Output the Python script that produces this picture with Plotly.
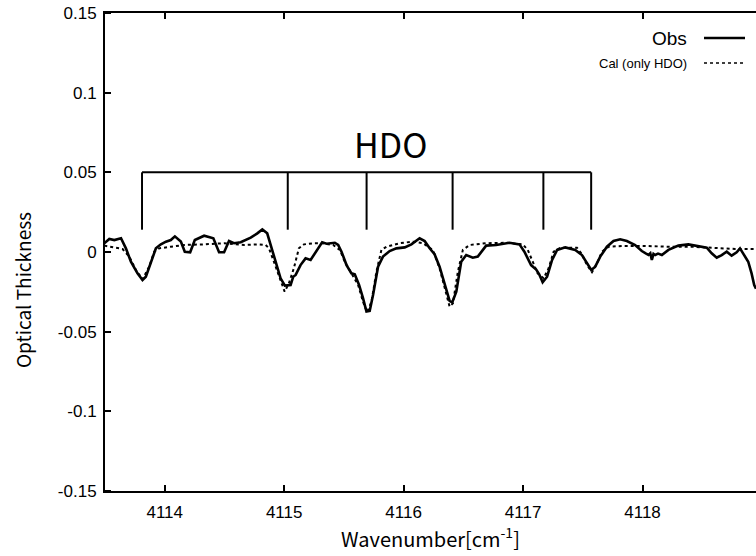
import plotly.graph_objects as go

# Observed optical thickness spectrum
obs_wn = [4113.494, 4113.536, 4113.578, 4113.634, 4113.675, 4113.717, 4113.772, 4113.814,
          4113.842, 4113.884, 4113.926, 4113.968, 4114.010, 4114.051, 4114.085, 4114.135,
          4114.168, 4114.213, 4114.252, 4114.330, 4114.407, 4114.455, 4114.497, 4114.538,
          4114.580, 4114.636, 4114.720, 4114.775, 4114.817, 4114.858, 4114.887, 4114.929,
          4114.970, 4115.006, 4115.054, 4115.076, 4115.096, 4115.137, 4115.179, 4115.221,
          4115.276, 4115.318, 4115.355, 4115.424, 4115.452, 4115.480, 4115.522, 4115.563,
          4115.591, 4115.627, 4115.660, 4115.689, 4115.716, 4115.744, 4115.786, 4115.827,
          4115.883, 4115.939, 4116.009, 4116.065, 4116.134, 4116.176, 4116.218, 4116.259,
          4116.301, 4116.343, 4116.385, 4116.407, 4116.441, 4116.482, 4116.524, 4116.579,
          4116.621, 4116.691, 4116.775, 4116.886, 4116.970, 4117.011, 4117.067, 4117.110,
          4117.135, 4117.164, 4117.201, 4117.243, 4117.285, 4117.354, 4117.437, 4117.493,
          4117.535, 4117.571, 4117.604, 4117.646, 4117.702, 4117.757, 4117.813, 4117.869,
          4117.938, 4117.994, 4118.030, 4118.050, 4118.065, 4118.078, 4118.092, 4118.106,
          4118.130, 4118.162, 4118.217, 4118.300, 4118.384, 4118.482, 4118.538, 4118.579,
          4118.621, 4118.663, 4118.705, 4118.746, 4118.788, 4118.816, 4118.852, 4118.885,
          4118.913, 4118.935, 4118.950]
obs_tau = [0.0055, 0.0082, 0.0075, 0.0086, 0.0023, -0.0061, -0.0134, -0.0176,
           -0.0155, -0.0061, 0.0023, 0.0048, 0.0065, 0.0075, 0.0098, 0.0065,
           0.0002, -0.0002, 0.0075, 0.0102, 0.0086, -0.0002, -0.0002, 0.0069,
           0.0055, 0.0061, 0.0090, 0.0117, 0.0142, 0.0117, 0.0044, -0.0061,
           -0.0165, -0.0211, -0.0207, -0.0155, -0.0144, -0.0082, -0.0040, -0.0050,
           0.0013, 0.0061, 0.0052, 0.0058, 0.0044, 0.0002, -0.0082, -0.0134,
           -0.0140, -0.0207, -0.0290, -0.0374, -0.0370, -0.0270, -0.0092, -0.0029,
           0.0006, 0.0023, 0.0029, 0.0048, 0.0086, 0.0069, 0.0023, -0.0014,
           -0.0092, -0.0207, -0.0307, -0.0316, -0.0249, -0.0061, -0.0019, -0.0036,
           -0.0029, 0.0040, 0.0044, 0.0058, 0.0048, 0.0002, -0.0082, -0.0110,
           -0.0140, -0.0190, -0.0155, -0.0050, 0.0013, 0.0029, 0.0013, -0.0019,
           -0.0071, -0.0113, -0.0092, -0.0029, 0.0033, 0.0069, 0.0080, 0.0069,
           0.0044, 0.0006, -0.0010, -0.0018, -0.0008, -0.0050, -0.0012, -0.0019,
           -0.0010, -0.0019, 0.0013, 0.0040, 0.0048, 0.0033, 0.0027, -0.0008,
           -0.0036, -0.0019, 0.0002, -0.0023, -0.0002, 0.0023, -0.0019, -0.0061,
           -0.0134, -0.0207, -0.0230]

# Calculated optical thickness (HDO lines only)
cal_wn = [4113.494, 4113.578, 4113.647, 4113.703, 4113.759, 4113.814, 4113.870, 4113.912,
          4113.954, 4114.051, 4114.162, 4114.330, 4114.497, 4114.664, 4114.775, 4114.845,
          4114.873, 4114.914, 4114.956, 4115.004, 4115.040, 4115.081, 4115.123, 4115.165,
          4115.249, 4115.318, 4115.410, 4115.466, 4115.508, 4115.563, 4115.619, 4115.660,
          4115.694, 4115.731, 4115.772, 4115.814, 4115.856, 4115.967, 4116.078, 4116.162,
          4116.245, 4116.301, 4116.343, 4116.385, 4116.413, 4116.454, 4116.496, 4116.552,
          4116.691, 4116.858, 4116.997, 4117.039, 4117.081, 4117.122, 4117.172, 4117.214,
          4117.256, 4117.312, 4117.451, 4117.493, 4117.535, 4117.577, 4117.619, 4117.660,
          4117.716, 4117.827, 4118.022, 4118.217, 4118.412, 4118.607, 4118.774, 4118.950]
cal_tau = [0.0040, 0.0027, 0.0019, -0.0029, -0.0113, -0.0171, -0.0092, 0.0002,
           0.0023, 0.0033, 0.0044, 0.0048, 0.0055, 0.0044, 0.0048, 0.0044,
           0.0023, -0.0061, -0.0155, -0.0249, -0.0196, -0.0102, 0.0023, 0.0048,
           0.0055, 0.0055, 0.0044, 0.0013, -0.0061, -0.0134, -0.0207, -0.0312,
           -0.0378, -0.0312, -0.0124, 0.0013, 0.0033, 0.0055, 0.0065, 0.0055,
           0.0013, -0.0102, -0.0228, -0.0343, -0.0322, -0.0124, 0.0013, 0.0044,
           0.0055, 0.0058, 0.0048, 0.0013, -0.0061, -0.0134, -0.0165, -0.0102,
           0.0002, 0.0027, 0.0027, -0.0014, -0.0082, -0.0127, -0.0071, 0.0002,
           0.0033, 0.0038, 0.0038, 0.0033, 0.0033, 0.0027, 0.0019, 0.0019]

# HDO line positions marked by the bracket
hdo_lines = [4113.81, 4115.03, 4115.69, 4116.41, 4117.17, 4117.57]
bracket_top = 0.05
bracket_bottom = 0.014
hdo_label_wn = 4115.89

x_range = [4113.5, 4118.95]
y_range = [-0.15, 0.15]
y_ticks = [-0.15, -0.1, -0.05, 0, 0.05, 0.1, 0.15]
y_ticktext = ["-0.15", "-0.1", "-0.05", "0", "0.05", "0.1", "0.15"]
x_ticks = [4114, 4115, 4116, 4117, 4118]

tick_font = dict(family="Liberation Sans, Arial, sans-serif", size=17, color="black")
title_family = "Noto Sans CJK JP, Noto Sans, sans-serif"

fig = go.Figure()
fig.add_trace(go.Scatter(x=cal_wn, y=cal_tau, mode="lines",
                         line=dict(color="black", width=2, dash="dot"),
                         name="Cal (only HDO)", showlegend=False))
fig.add_trace(go.Scatter(x=obs_wn, y=obs_tau, mode="lines",
                         line=dict(color="black", width=2.6),
                         name="Obs", showlegend=False))

# Bracket over the HDO lines
fig.add_shape(type="line", xref="x", yref="y",
              x0=hdo_lines[0], x1=hdo_lines[-1], y0=bracket_top, y1=bracket_top,
              line=dict(color="black", width=2))
for wn in hdo_lines:
    fig.add_shape(type="line", xref="x", yref="y",
                  x0=wn, x1=wn, y0=bracket_bottom, y1=bracket_top,
                  line=dict(color="black", width=2))
fig.add_annotation(x=hdo_label_wn, y=bracket_top,
                   xref="x", yref="y", text="HDO", showarrow=False,
                   yanchor="bottom", yshift=2,
                   font=dict(family=title_family, size=34, color="black"))

# Pixel helpers for the key and the y title
plot_l, plot_t, plot_b = 105, 13, 65
plot_w = 756 - plot_l
plot_h = 556 - plot_t - plot_b


def px_to_paper(px, py):
    return (px - plot_l) / plot_w, 1 - (py - plot_t) / plot_h


key_rows = [
    ("Obs", 38, 19, "solid", 2.6),
    ("Cal (only HDO)", 63, 13, "dot", 1.6),
]
for text, py, fsize, dash, w in key_rows:
    tx, ty = px_to_paper(689, py)
    fig.add_annotation(x=tx, y=ty, xref="paper", yref="paper", text=text,
                       showarrow=False, xanchor="right", yanchor="middle",
                       font=dict(family="Liberation Sans, Arial, sans-serif",
                                 size=fsize, color="black"))
    x0, y0 = px_to_paper(704, py)
    x1, _ = px_to_paper(745, py)
    fig.add_shape(type="line", xref="paper", yref="paper",
                  x0=x0, x1=x1, y0=y0, y1=y0,
                  line=dict(color="black", width=w, dash=dash))

# Y axis title, set a little below the axis centre
tx, ty = px_to_paper(22, 290)
fig.add_annotation(x=tx, y=ty, xref="paper", yref="paper", text="Optical Thickness",
                   showarrow=False, textangle=-90, xanchor="center", yanchor="middle",
                   font=dict(family=title_family, size=19, color="black"))

fig.update_layout(
    width=756, height=556,
    margin=dict(l=plot_l, r=0, t=plot_t, b=plot_b),
    paper_bgcolor="white", plot_bgcolor="white",
    showlegend=False,
)

# Major ticks are invisible spacers that push labels outward; the visible
# inward ticks are drawn as minor ticks at the same positions.
inner_ticks = dict(ticks="inside", ticklen=6, tickwidth=1.5, tickcolor="black", showgrid=False)
fig.update_xaxes(
    range=x_range, tickvals=x_ticks, ticks="outside", ticklen=5,
    tickcolor="rgba(0,0,0,0)", showline=True, linecolor="black", linewidth=2,
    mirror="ticks", showgrid=False, zeroline=False, tickfont=tick_font,
    minor=dict(tickvals=x_ticks, **inner_ticks),
    title=dict(text="Wavenumber[cm<sup>-1</sup>]",
               font=dict(family=title_family, size=20, color="black"), standoff=4),
)
fig.update_yaxes(
    range=y_range, tickvals=y_ticks, ticktext=y_ticktext, ticks="outside",
    ticklen=3, tickcolor="rgba(0,0,0,0)", showline=True, linecolor="black",
    linewidth=2, showgrid=False, zeroline=False, tickfont=tick_font,
    minor=dict(tickvals=y_ticks, **inner_ticks),
)

fig.write_html("out.html")
